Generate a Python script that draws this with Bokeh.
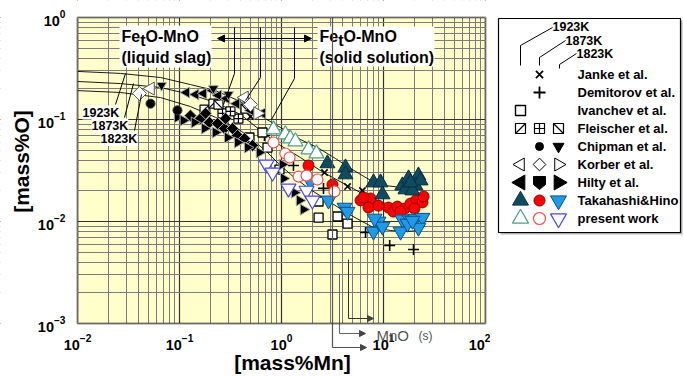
import numpy as np
from bokeh.plotting import figure
from bokeh.layouts import row
from bokeh.models import Label, Arrow, NormalHead, BoxAnnotation, Range1d
from bokeh.core.properties import value
from bokeh.embed import file_html
from bokeh.resources import INLINE

FONT = "Liberation Sans"

# ---------------- equilibrium curves ([mass%Mn], [mass%O]) ----------------
curve_1923_mn = [0.01, 0.0264, 0.0652, 0.128, 0.225, 0.396, 0.622, 0.977, 1.53, 2.25, 3.38, 4.44, 5.96, 7.80, 10.5, 14.7, 23.1]
curve_1923_o = [0.296, 0.283, 0.258, 0.220, 0.192, 0.150, 0.109, 0.0835, 0.0637, 0.0531, 0.0415, 0.0346, 0.0289, 0.0247, 0.0225, 0.0216, 0.0216]
curve_1873_mn = [0.01, 0.0264, 0.0652, 0.128, 0.225, 0.396, 0.497, 0.697, 0.977, 1.53, 2.58, 4.44, 5.96, 7.80, 10.5, 14.7, 23.1]
curve_1873_o = [0.236, 0.225, 0.206, 0.176, 0.147, 0.112, 0.0935, 0.0713, 0.0556, 0.0424, 0.0302, 0.0225, 0.0192, 0.0168, 0.0150, 0.0140, 0.0140]
curve_1823_mn = [0.01, 0.0264, 0.0652, 0.128, 0.225, 0.396, 0.497, 0.697, 0.977, 1.37, 1.92, 2.82, 4.44, 5.96, 7.98, 11.7, 16.4, 23.1]
curve_1823_o = [0.192, 0.184, 0.164, 0.134, 0.105, 0.078, 0.0651, 0.0497, 0.0354, 0.0264, 0.0206, 0.0161, 0.0120, 0.0102, 0.00873, 0.00816, 0.00798, 0.00816]

# ---------------- measurements ----------------
janke_mn = [0.497, 0.595, 2.64, 4.44, 6.22]
janke_o = [0.107, 0.115, 0.0302, 0.0220, 0.0201]

demitorov_mn = [0.681, 1.31, 2.58, 6.67, 11.5, 19.7]
demitorov_o = [0.0697, 0.0354, 0.0211, 0.00780, 0.00582, 0.00531]

ivanchev_mn = [0.485, 0.729, 0.651, 0.955, 2.31, 2.31, 3.54, 4.44, 3.16]
ivanchev_o = [0.0666, 0.0531, 0.0746, 0.0323, 0.0157, 0.0109, 0.0112, 0.00955, 0.00746]

fleischer_1923_mn = [0.176, 0.215]
fleischer_1923_o = [0.125, 0.143]
fleischer_1873_mn = [0.264, 0.378, 0.316]
fleischer_1873_o = [0.115, 0.102, 0.120]
fleischer_1823_mn = [0.241, 0.444]
fleischer_1823_o = [0.140, 0.128]

chipman_1873_mn = [0.052, 0.0955]
chipman_1873_o = [0.143, 0.123]
chipman_1823_mn = [0.0667, 0.215, 0.302, 0.444]
chipman_1823_o = [0.216, 0.201, 0.176, 0.153]

korber_1923_mn = [0.052, 0.434]
korber_1923_o = [0.201, 0.164]
korber_1873_mn = [0.0405, 0.497]
korber_1873_o = [0.180, 0.140]
korber_1823_mn = [0.582]
korber_1823_o = [0.115]

hilty_1923_mn = [0.117, 0.144, 0.172, 0.211, 0.241, 0.289, 0.362, 0.497, 0.651]
hilty_1923_o = [0.184, 0.176, 0.180, 0.192, 0.172, 0.161, 0.143, 0.123, 0.115]
hilty_1873_mn = [0.128, 0.161, 0.197, 0.236, 0.276, 0.331, 0.371, 0.434, 0.520, 0.180, 0.283]
hilty_1873_o = [0.109, 0.102, 0.0935, 0.0914, 0.0816, 0.0816, 0.0697, 0.0651, 0.0556, 0.115, 0.102]
hilty_1823_mn = [0.0955, 0.109, 0.140, 0.176, 0.225, 0.296, 0.371, 0.465, 0.608, 1.02, 0.853, 1.05, 1.34, 1.50, 1.64]
hilty_1823_o = [0.105, 0.0978, 0.0935, 0.0816, 0.0746, 0.0666, 0.0595, 0.0531, 0.0475, 0.0362, 0.0302, 0.0264, 0.0192, 0.0161, 0.0131]

takahashi_1923_mn = [2.82, 4.24, 4.24, 7.98, 9.35, 9.77, 15.3, 17.6, 22.0, 20.6, 16.4, 19.2, 23.1, 18.4]
takahashi_1923_o = [0.0371, 0.0338, 0.0289, 0.0241, 0.0241, 0.0184, 0.0225, 0.0264, 0.0282, 0.0225, 0.0206, 0.0201, 0.0252, 0.0241]
takahashi_1873_mn = [1.84, 3.16, 5.96, 7.46, 7.13, 11.2, 12.5, 13.7, 16.1, 18.4, 21.1, 24.1, 24.7, 20.1, 6.37, 8.93, 14.7]
takahashi_1873_o = [0.0354, 0.0230, 0.0161, 0.0168, 0.0137, 0.0137, 0.0125, 0.0140, 0.0134, 0.0150, 0.0164, 0.0154, 0.0176, 0.0134, 0.0172, 0.0143, 0.0125]
takahashi_1823_mn = [1.92, 2.89, 4.15, 4.44, 7.98, 8.93, 9.77, 8.17, 14.7, 15.3, 18.0, 20.6, 24.1, 22.0, 17.2, 19.2]
takahashi_1823_o = [0.0247, 0.0161, 0.0137, 0.0125, 0.00798, 0.0100, 0.00893, 0.0107, 0.00798, 0.0105, 0.0105, 0.0107, 0.0109, 0.00873, 0.00955, 0.0102]

present_1923_mn = [0.835, 1.09, 1.22, 1.37, 1.84, 2.20]
present_1923_o = [0.0798, 0.0713, 0.0651, 0.0609, 0.0508, 0.0464]
present_1873_mn = [0.835, 1.09, 1.20, 1.47, 1.76, 2.25, 3.31]
present_1873_o = [0.0595, 0.0464, 0.0424, 0.0276, 0.0282, 0.0258, 0.0197]
present_1823_mn = [0.713, 0.817, 1.17, 1.76, 2.01]
present_1823_o = [0.0362, 0.0302, 0.0211, 0.0201, 0.0161]

temperatures = ["1923K", "1873K", "1823K"]
legend_names = ["Janke et al.", "Demitorov et al.", "Ivanchev et al.", "Fleischer et al.",
                "Chipman et al.", "Korber et al.", "Hilty et al.", "Takahashi&Hino", "present work"]

# axis extents of the plotting box
MN_MIN, MN_MAX = 1e-2, 1e2
O_MIN, O_MAX = 1e-3, 1e0

# ---------------- colours ----------------
PAPER = "#ffffcc"
TEAL, TEAL_EDGE = "#0f4b61", "#08303f"
RED, RED_EDGE = "#ff0000", "#8a0000"
BLUE, BLUE_EDGE = "#1e9be6", "#0c4f88"
OPEN_TEAL, OPEN_RED, OPEN_BLUE = "#4e9c8a", "#ff4a4a", "#4646ff"
GREY_EDGE = "#a8a8a8"

# ---------------- main log-log chart ----------------
# The frame fills the whole canvas so that captions and leaders may sit
# outside the plotting box; the axes are pinned to the box edges.
W, H = 490, 376
BOX_L, BOX_T, DEC = 77, 17, 102.0

x_lo = 10 ** (np.log10(MN_MIN) - BOX_L / DEC)
x_hi = 10 ** (np.log10(MN_MIN) + (W - BOX_L) / DEC)
y_hi = 10 ** (np.log10(O_MAX) + BOX_T / DEC)
y_lo = 10 ** (np.log10(O_MAX) - (H - BOX_T) / DEC)

p = figure(width=W, height=H, x_axis_type="log", y_axis_type="log",
           x_range=Range1d(x_lo, x_hi), y_range=Range1d(y_lo, y_hi),
           output_backend="svg", toolbar_location=None, min_border=0)

p.background_fill_color = "white"
p.border_fill_color = "white"
p.outline_line_color = None

p.add_layout(BoxAnnotation(left=MN_MIN, right=MN_MAX, bottom=O_MIN, top=O_MAX, fill_color=PAPER,
                           fill_alpha=1.0, line_color=None, level="image"))

p.grid.grid_line_color = "#333333"
p.grid.grid_line_width = 1.2
p.grid.minor_grid_line_color = "#7c7c7c"
p.grid.minor_grid_line_width = 1
p.xgrid.bounds = (MN_MIN, MN_MAX)
p.ygrid.bounds = (O_MIN, O_MAX)

# white surround hides grid lines outside the plotting box
for kw in (dict(right=MN_MIN), dict(left=MN_MAX), dict(bottom=O_MAX), dict(top=O_MIN)):
    p.add_layout(BoxAnnotation(fill_color="white", fill_alpha=1.0, line_color=None, level="glyph", **kw))

p.xaxis.fixed_location = O_MIN
p.yaxis.fixed_location = MN_MIN
p.xaxis.bounds = (MN_MIN, MN_MAX)
p.yaxis.bounds = (O_MIN, O_MAX)
for ax in (p.xaxis[0], p.yaxis[0]):
    ax.axis_line_color = None
    ax.major_tick_line_color = None
    ax.minor_tick_line_color = None
    ax.major_label_text_font = FONT
    ax.major_label_text_font_style = "bold"
    ax.major_label_text_font_size = "14.5px"
    ax.major_label_text_color = "black"
p.xaxis.major_label_standoff = 4
p.yaxis.major_label_standoff = 6


def at(px, py):
    """Canvas pixel position -> data coordinates."""
    return 10 ** (np.log10(MN_MIN) + (px - BOX_L) / DEC), 10 ** (np.log10(O_MAX) - (py - BOX_T) / DEC)


def seg(a, b, color="black", width=1.0, head=None):
    x0, y0 = at(*a)
    x1, y1 = at(*b)
    p.add_layout(Arrow(start=None, end=head, x_start=x0, y_start=y0, x_end=x1, y_end=y1,
                       line_color=color, line_width=width))


def label(px, py, s, size="16px", bold=True, color="black", bg=None, align="left", angle=0.0):
    x, y = at(px, py)
    p.add_layout(Label(x=x, y=y, text=s, text_font=FONT, text_font_size=size,
                       text_font_style="bold" if bold else "normal", text_color=color,
                       text_baseline="middle", text_align=align, angle=angle,
                       background_fill_color=bg))


# curves
for xs, ys in ((curve_1923_mn, curve_1923_o), (curve_1873_mn, curve_1873_o), (curve_1823_mn, curve_1823_o)):
    p.line(xs, ys, line_color="black", line_width=0.9)

# literature data
p.scatter(janke_mn, janke_o, marker="x", size=9, line_color="black", line_width=1.6)
p.scatter(demitorov_mn, demitorov_o, marker="cross", size=11, line_color="black", line_width=1.6)
p.scatter(ivanchev_mn, ivanchev_o, marker="square", size=9, fill_color="white", line_color="black", line_width=1.3)

p.scatter(fleischer_1923_mn, fleischer_1923_o, marker="square", size=9, fill_color="white", line_color="black", line_width=1.2)
p.scatter(fleischer_1923_mn, fleischer_1923_o, marker="dash", angle=np.pi / 4, size=12, line_color="black", line_width=1.2)
p.scatter(fleischer_1873_mn, fleischer_1873_o, marker="square_cross", size=9, fill_color="white", line_color="black", line_width=1.2)
p.scatter(fleischer_1823_mn, fleischer_1823_o, marker="square", size=9, fill_color="white", line_color="black", line_width=1.2)
p.scatter(fleischer_1823_mn, fleischer_1823_o, marker="dash", angle=-np.pi / 4, size=12, line_color="black", line_width=1.2)

p.scatter(hilty_1923_mn, hilty_1923_o, marker="triangle", angle=np.pi / 2, size=11, fill_color="black", line_color=GREY_EDGE)
p.scatter(hilty_1873_mn, hilty_1873_o, marker="square", angle=np.pi / 4, size=8.5, fill_color="black", line_color=GREY_EDGE)
p.scatter(hilty_1823_mn, hilty_1823_o, marker="triangle", angle=-np.pi / 2, size=11, fill_color="black", line_color=GREY_EDGE)

p.scatter(chipman_1873_mn, chipman_1873_o, marker="circle", size=9, fill_color="black", line_color="#333333")
p.scatter(chipman_1823_mn, chipman_1823_o, marker="inverted_triangle", size=10, fill_color="black", line_color=GREY_EDGE)

p.scatter(korber_1923_mn, korber_1923_o, marker="triangle", angle=np.pi / 2, size=13, fill_color="white", line_color="#555555")
p.scatter(korber_1873_mn, korber_1873_o, marker="square", angle=np.pi / 4, size=10, fill_color="white", line_color="#555555")
p.scatter(korber_1823_mn, korber_1823_o, marker="triangle", angle=-np.pi / 2, size=13, fill_color="white", line_color="#555555")

# Takahashi & Hino
p.scatter(takahashi_1873_mn, takahashi_1873_o, marker="circle", size=11, fill_color=RED, line_color=RED_EDGE)
p.scatter(takahashi_1823_mn, takahashi_1823_o, marker="inverted_triangle", size=15, fill_color=BLUE, line_color=BLUE_EDGE)
p.scatter(takahashi_1923_mn, takahashi_1923_o, marker="triangle", size=15, fill_color=TEAL, line_color=TEAL_EDGE)

# present work
p.scatter(present_1923_mn, present_1923_o, marker="triangle", size=15, fill_color="white", line_color=OPEN_TEAL, line_width=1.2)
p.scatter(present_1873_mn, present_1873_o, marker="circle", size=11, fill_color="white", line_color=OPEN_RED, line_width=1.2)
p.scatter(present_1823_mn, present_1823_o, marker="inverted_triangle", size=15, fill_color="white", line_color=OPEN_BLUE, line_width=1.2)

# axis titles
label(292, 361.5, "[mass%Mn]", size="21px", align="center")
label(21, 161, "[mass%O]", size="21px", align="center", angle=np.pi / 2)

# region captions
for (l, t, r, b) in ((119, 25, 211, 67), (317, 26, 434, 66)):
    x0, y0 = at(l, t)
    x1, y1 = at(r, b)
    p.add_layout(BoxAnnotation(left=x0, right=x1, top=y0, bottom=y1, fill_color="white",
                               fill_alpha=1.0, line_color=None))
for x0 in (121, 319):
    label(x0, 35.5, "Fe")
    label(x0 + 18.7, 40, "t")
    label(x0 + 24.0, 35.5, "O-MnO")
label(121, 57, "(liquid slag)")
label(319, 57, "(solid solution)")

head = dict(size=7, fill_color="black", line_color="black")
xa, ya = at(217, 38)
xb, yb = at(311, 38)
p.add_layout(Arrow(start=NormalHead(**head), end=NormalHead(**head), x_start=xa, y_start=ya,
                   x_end=xb, y_end=yb, line_color="black", line_width=1))

# boundary leaders from the top
for (xv, ybend, xe, ye) in ((234, 73, 223, 104), (260, 77, 245, 100), (294, 78, 271, 119)):
    seg((xv, 27), (xv, ybend))
    seg((xv, ybend), (xe, ye))

# isotherm labels on the left
for (a, b), (lx, ly), s in zip((((115, 104), (125, 73)), ((124, 117), (133, 83)), ((134, 130), (141, 94))),
                              ((82, 112), (91, 125), (100, 138.5)), temperatures):
    seg(a, b)
    label(lx, ly, s, size="12.5px", bg="white")

# MnO(s) saturation markers
arrow_head = dict(size=6, fill_color="#444444", line_color="#444444")
seg((332, 17), (332, 347), color="#555555", width=1.2)
seg((332, 347), (366, 347), color="#555555", head=NormalHead(**arrow_head))
seg((339, 273), (339, 333), color="#666666")
seg((339, 333), (365, 333), color="#666666", head=NormalHead(**arrow_head))
seg((348, 259), (348, 318), color="#333333")
seg((348, 318), (373, 318), color="#333333", head=NormalHead(**arrow_head))
label(376, 335, "MnO", size="15px", bold=False, color="#555555")
label(418, 335, "(s)", size="12px", bold=False, color="#555555")

# plotting box border
p.add_layout(BoxAnnotation(left=MN_MIN, right=MN_MAX, bottom=O_MIN, top=O_MAX, fill_alpha=0.0,
                           line_color="black", line_width=2.5))

# ---------------- legend panel ----------------
lg = figure(width=193, height=376, x_range=Range1d(490, 683), y_range=Range1d(376, 0),
            output_backend="svg", toolbar_location=None, min_border=0,
            x_axis_location=None, y_axis_location=None)
lg.grid.visible = False
lg.outline_line_color = None
lg.background_fill_color = "white"
lg.border_fill_color = "white"

lg.quad(left=[500], right=[682], top=[20], bottom=[234], fill_color="#b0b0b0", line_color=None)
lg.quad(left=[498], right=[680], top=[18], bottom=[232], fill_color="white", line_color="black", line_width=1.2)

cols = [520, 539, 558]
rows_y = [74 + 18 * i for i in range(9)]

lg.text(x=[552, 565, 576], y=[26, 40, 53], text=temperatures, text_font=value(FONT),
        text_font_style="bold", text_font_size="12.5px", text_baseline="middle")
lg.multi_line(xs=[[520, 520, 552], [539, 539, 565], [559, 559, 576]],
              ys=[[65, 45, 27], [65, 57, 40], [68, 64, 53]], line_color="black", line_width=1)

lg.text(x=[577] * 9, y=rows_y, text=legend_names, text_font=value(FONT),
        text_font_style="bold", text_font_size="13px", text_baseline="middle")

c1, c2, c3 = cols
y = rows_y
lg.scatter([c2], [y[0]], marker="x", size=10, line_color="black", line_width=1.8)
lg.scatter([c2], [y[1]], marker="cross", size=12, line_color="black", line_width=1.8)
lg.scatter([c1], [y[2]], marker="square", size=10, fill_color="white", line_color="black", line_width=1.4)
lg.scatter([c1, c3], [y[3], y[3]], marker="square", size=10, fill_color="white", line_color="black", line_width=1.2)
lg.segment(x0=[c1 - 5, c3 - 5], y0=[y[3] + 5, y[3] - 5], x1=[c1 + 5, c3 + 5], y1=[y[3] - 5, y[3] + 5],
           line_color="black", line_width=1.2)
lg.scatter([c2], [y[3]], marker="square_cross", size=10, fill_color="white", line_color="black", line_width=1.2)
lg.scatter([c2], [y[4]], marker="circle", size=8, fill_color="black", line_color="black")
lg.scatter([c3], [y[4]], marker="inverted_triangle", size=11, fill_color="black", line_color="black")
lg.scatter([c1], [y[5]], marker="triangle", angle=np.pi / 2, size=13, fill_color="white", line_color="black")
lg.scatter([c2], [y[5]], marker="square", angle=np.pi / 4, size=9, fill_color="white", line_color="black")
lg.scatter([c3], [y[5]], marker="triangle", angle=-np.pi / 2, size=13, fill_color="white", line_color="black")
lg.scatter([c1], [y[6]], marker="triangle", angle=np.pi / 2, size=15, fill_color="black", line_color="black")
lg.patch([c2 - 6, c2 + 6, c2 + 6, c2, c2 - 6], [y[6] - 6, y[6] - 6, y[6] + 2, y[6] + 7, y[6] + 2],
         fill_color="black", line_color="black")
lg.scatter([c3], [y[6]], marker="triangle", angle=-np.pi / 2, size=15, fill_color="black", line_color="black")
lg.scatter([c1], [y[7]], marker="triangle", size=16, fill_color=TEAL, line_color=TEAL_EDGE)
lg.scatter([c2], [y[7]], marker="circle", size=11, fill_color=RED, line_color=RED_EDGE)
lg.scatter([c3], [y[7]], marker="inverted_triangle", size=16, fill_color=BLUE, line_color=BLUE_EDGE)
lg.scatter([c1], [y[8]], marker="triangle", size=16, fill_color="white", line_color=OPEN_TEAL, line_width=1.2)
lg.scatter([c2], [y[8]], marker="circle", size=12, fill_color="white", line_color=OPEN_RED, line_width=1.2)
lg.scatter([c3], [y[8]], marker="inverted_triangle", size=16, fill_color="white", line_color=OPEN_BLUE, line_width=1.2)

layout = row(p, lg)
open("out.html", "w").write(file_html(layout, INLINE))
